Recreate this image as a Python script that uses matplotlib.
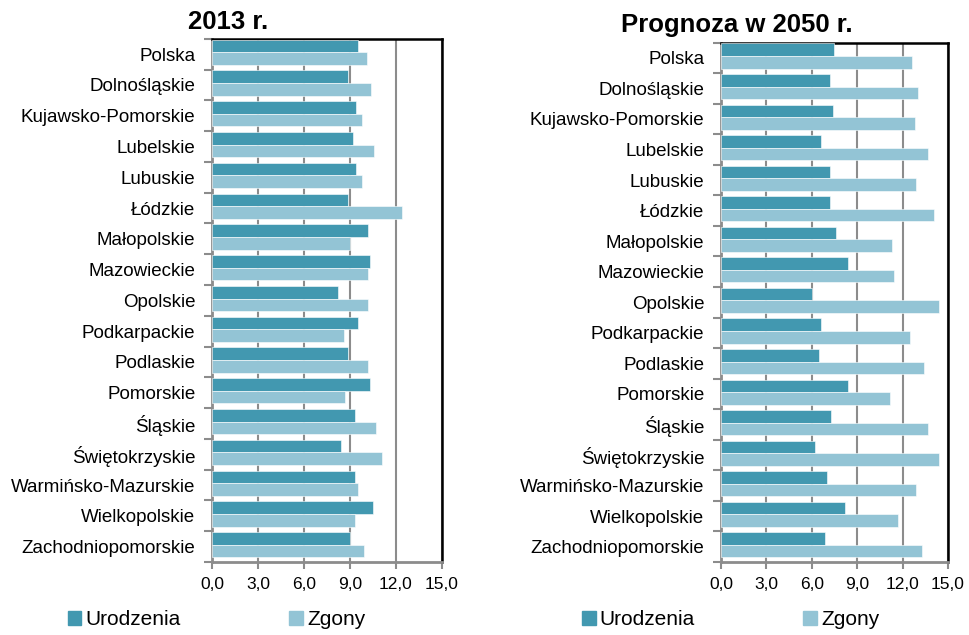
import numpy as np
import matplotlib.pyplot as plt
from matplotlib.patches import Patch

plt.rcParams['font.family'] = ['Liberation Sans', 'DejaVu Sans']

# dane
regiony = ['Polska', 'Dolnośląskie', 'Kujawsko-Pomorskie', 'Lubelskie', 'Lubuskie',
           'Łódzkie', 'Małopolskie', 'Mazowieckie', 'Opolskie', 'Podkarpackie',
           'Podlaskie', 'Pomorskie', 'Śląskie', 'Świętokrzyskie',
           'Warmińsko-Mazurskie', 'Wielkopolskie', 'Zachodniopomorskie']

urodzenia_2013 = [9.5, 8.9, 9.4, 9.2, 9.4, 8.9, 10.2, 10.3, 8.2, 9.5,
                  8.9, 10.3, 9.3, 8.4, 9.3, 10.5, 9.0]
zgony_2013 = [10.1, 10.4, 9.8, 10.6, 9.8, 12.4, 9.0, 10.2, 10.2, 8.6,
              10.2, 8.7, 10.7, 11.1, 9.5, 9.3, 9.9]

urodzenia_2050 = [7.5, 7.2, 7.4, 6.6, 7.2, 7.2, 7.6, 8.4, 6.0, 6.6,
                  6.5, 8.4, 7.3, 6.2, 7.0, 8.2, 6.9]
zgony_2050 = [12.6, 13.0, 12.8, 13.7, 12.9, 14.1, 11.3, 11.4, 14.4, 12.5,
              13.4, 11.2, 13.7, 14.4, 12.9, 11.7, 13.3]

xticks = [0, 3, 6, 9, 12, 15]
xlabels = ['0,0', '3,0', '6,0', '9,0', '12,0', '15,0']

c_ur = '#4298b0'
c_zg = '#93c4d5'
szary = '#8c8c8c'

fig = plt.figure(figsize=(9.7, 6.35), dpi=100)
ax1 = fig.add_axes([0.2186, 0.115, 0.237, 0.824])
ax2 = fig.add_axes([0.7433, 0.115, 0.234, 0.818])


def rysuj(ax, ur, zg):
    y = np.arange(len(regiony)) - 0.06
    h = 0.41
    ax.barh(y - h / 2, ur, height=h, color=c_ur, edgecolor='white', linewidth=0.4, zorder=3)
    ax.barh(y + h / 2, zg, height=h, color=c_zg, edgecolor='white', linewidth=0.4, zorder=3)
    ax.set_ylim(len(regiony) - 0.5, -0.5)
    ax.set_xlim(0, 15)
    ax.set_yticks(np.arange(len(regiony)))
    ax.set_yticklabels(regiony, fontsize=13.5)
    ax.set_yticks(np.arange(len(regiony) + 1) - 0.5, minor=True)
    ax.tick_params(axis='y', which='major', length=0, pad=12)
    ax.tick_params(axis='y', which='minor', length=6, width=1.5, color=szary)
    ax.set_xticks(xticks)
    ax.set_xticklabels(xlabels, fontsize=12.5)
    ax.tick_params(axis='x', length=5, width=1.5, color=szary, pad=6)
    ax.grid(axis='x', color=szary, linewidth=1.5, zorder=0)
    ax.set_axisbelow(True)
    for s in ['left', 'bottom']:
        ax.spines[s].set_color(szary)
        ax.spines[s].set_linewidth(2)
    for s in ['top', 'right']:
        ax.spines[s].set_color('black')
        ax.spines[s].set_linewidth(1.8)


rysuj(ax1, urodzenia_2013, zgony_2013)
rysuj(ax2, urodzenia_2050, zgony_2050)

fig.text(0.235, 0.9539, '2013 r.', fontsize=18.5, fontweight='bold', ha='center', va='baseline')
fig.text(0.760, 0.950, 'Prognoza w 2050 r.', fontsize=18.5, fontweight='bold', ha='center', va='baseline')

# legendy
uchwyty = [Patch(color=c_ur, label='Urodzenia'), Patch(color=c_zg, label='Zgony')]
for x0 in [0.070, 0.600]:
    fig.legend(handles=uchwyty, loc='center left', bbox_to_anchor=(x0, 0.024), ncol=2,
               frameon=False, fontsize=15, handlelength=0.65, handleheight=0.65,
               handletextpad=0.2, columnspacing=5.2, borderaxespad=0, borderpad=0)

plt.savefig('out.png', dpi=100)
